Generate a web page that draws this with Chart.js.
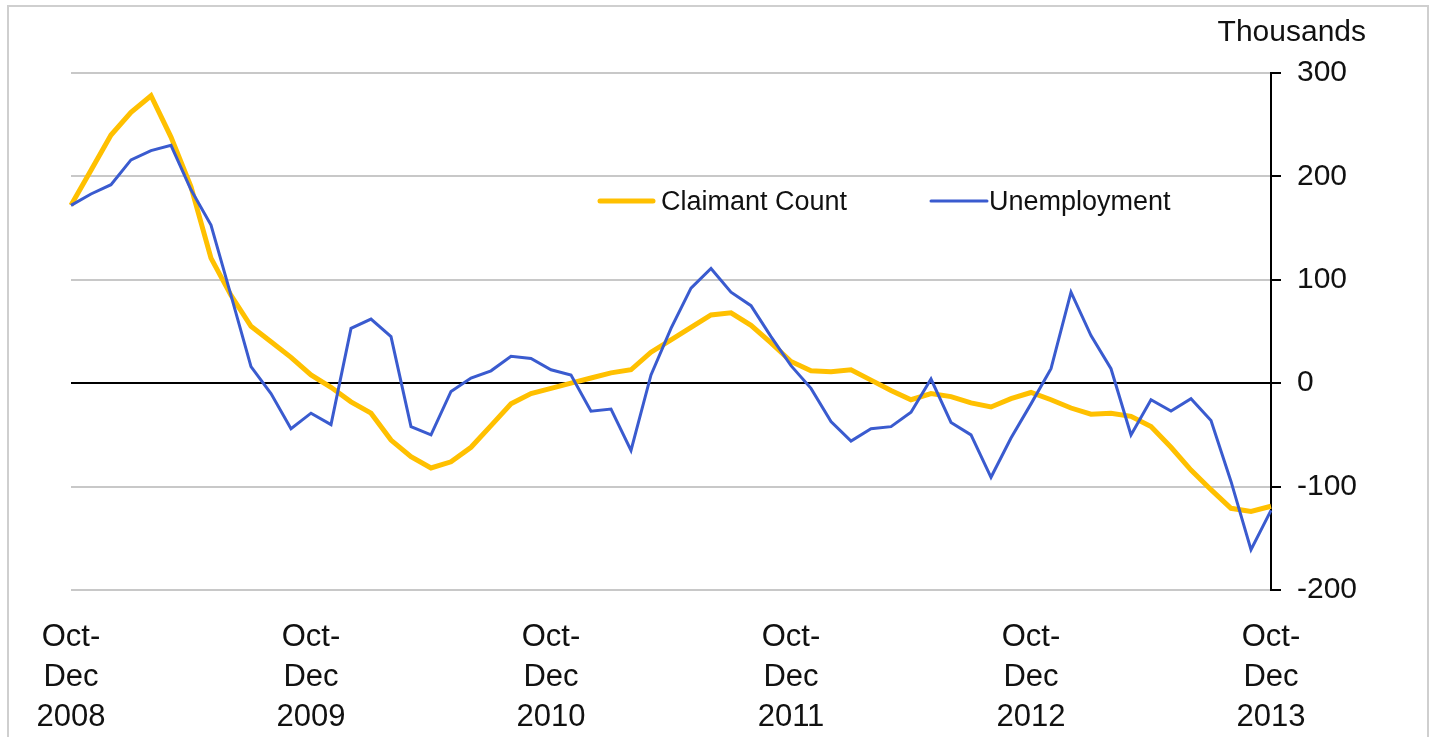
<!DOCTYPE html>
<html>
<head>
<meta charset="utf-8">
<script src="https://cdn.jsdelivr.net/npm/chart.js@4.4.1/dist/chart.umd.min.js"></script>
<style>
  body { margin: 0; background: #fff; }
  #wrap { position: relative; width: 1433px; height: 737px; }
  #frame {
    position: absolute; left: 7px; top: 5px; width: 1418px; height: 740px;
    border: 2px solid #cfcfcf; pointer-events: none;
  }
</style>
</head>
<body>
<div id="wrap">
  <canvas id="chart" width="1433" height="737"></canvas>
  <div id="frame"></div>
</div>
<script>
// rolling three-month periods, Oct-Dec 2008 .. Oct-Dec 2013
const monthNames = ["Jan","Feb","Mar","Apr","May","Jun","Jul","Aug","Sep","Oct","Nov","Dec"];
const categories = [];
for (let i = 0; i < 61; i++) {
  const start = 9 + i;            // Oct 2008 = month index 9
  const end = start + 2;
  categories.push(monthNames[start % 12] + "-" + monthNames[end % 12] + " " + (2008 + Math.floor(end / 12)));
}

const tickLabels = [
  ["Oct-", "Dec", "2008"],
  ["Oct-", "Dec", "2009"],
  ["Oct-", "Dec", "2010"],
  ["Oct-", "Dec", "2011"],
  ["Oct-", "Dec", "2012"],
  ["Oct-", "Dec", "2013"]
];

// change on a year earlier, thousands
const claimantCount = [
  172, 206, 240, 262, 278, 238, 190, 121, 85, 55,
  40, 25, 8, -4, -18, -29, -55, -71, -82, -76,
  -62, -41, -20, -10, -5, 0, 5, 10, 13, 30,
  42, 54, 66, 68, 56, 39, 21, 12, 11, 13,
  3, -7, -16, -10, -13, -19, -23, -15, -9, -16,
  -24, -30, -29, -32, -42, -62, -84, -103, -121, -124,
  -119
];

const unemployment = [
  172, 183, 192, 216, 225, 230, 187, 153, 85, 16,
  -10, -44, -29, -40, 53, 62, 45, -42, -50, -8,
  5, 12, 26, 24, 13, 8, -27, -25, -65, 8,
  53, 92, 111, 88, 75, 45, 17, -5, -37, -56,
  -44, -42, -28, 4, -38, -50, -91, -53, -20, 14,
  88, 46, 14, -50, -16, -27, -15, -36, -95, -161,
  -123
];

const yTicks = [-200, -100, 0, 100, 200, 300];

const FONT = "'Liberation Sans', Arial, sans-serif";
const YELLOW = "#FFC000";
const BLUE = "#3A5BCF";

// legend + unit label drawn on the canvas
const extras = {
  id: "extras",
  afterDraw(chart) {
    const ctx = chart.ctx;
    ctx.save();
    ctx.font = "30px " + FONT;
    ctx.fillStyle = "#111";
    ctx.textAlign = "right";
    ctx.textBaseline = "middle";
    ctx.fillText("Thousands", 1366, 33);

    ctx.font = "27px " + FONT;
    ctx.textAlign = "left";
    const y = 201;
    ctx.lineCap = "round";
    ctx.strokeStyle = YELLOW;
    ctx.lineWidth = 5;
    ctx.beginPath(); ctx.moveTo(600, y); ctx.lineTo(653, y); ctx.stroke();
    ctx.fillText("Claimant Count", 661, y + 2);
    ctx.strokeStyle = BLUE;
    ctx.lineWidth = 3;
    ctx.beginPath(); ctx.moveTo(931, y); ctx.lineTo(987, y); ctx.stroke();
    ctx.fillText("Unemployment", 989, y + 2);
    ctx.restore();
  }
};

new Chart(document.getElementById("chart"), {
  type: "line",
  data: {
    labels: categories,
    datasets: [
      {
        label: "Claimant Count",
        data: claimantCount,
        borderColor: YELLOW,
        borderWidth: 5,
        pointRadius: 0,
        tension: 0,
        order: 1
      },
      {
        label: "Unemployment",
        data: unemployment,
        borderColor: BLUE,
        borderWidth: 3,
        pointRadius: 0,
        tension: 0,
        order: 0
      }
    ]
  },
  options: {
    responsive: false,
    animation: false,
    layout: { padding: { left: 71, top: 73, right: 0, bottom: 0 } },
    plugins: {
      legend: { display: false },
      tooltip: { enabled: false }
    },
    scales: {
      x: {
        type: "category",
        offset: false,
        grid: { display: false, drawTicks: false },
        border: { display: false },
        ticks: {
          autoSkip: false,
          maxRotation: 0,
          minRotation: 0,
          padding: 27,
          color: "#111",
          font: { family: FONT, size: 31, lineHeight: "40px" },
          callback: (v, i) => (i % 12 === 0 ? tickLabels[i / 12] : "")
        },
        afterFit: s => { s.height = 147; }
      },
      y: {
        position: "right",
        min: -200,
        max: 300,
        afterBuildTicks: s => { s.ticks = yTicks.map(v => ({ value: v })); },
        grid: {
          color: c => (c.tick && c.tick.value === 0 ? "#000" : "#c8c8c8"),
          lineWidth: 2,
          tickColor: "#000",
          tickLength: 10
        },
        border: { display: true, color: "#000", width: 2 },
        ticks: {
          padding: 16,
          color: "#111",
          font: { family: FONT, size: 30 }
        },
        afterFit: s => { s.width = 162; }
      }
    }
  },
  plugins: [extras]
});
</script>
</body>
</html>
